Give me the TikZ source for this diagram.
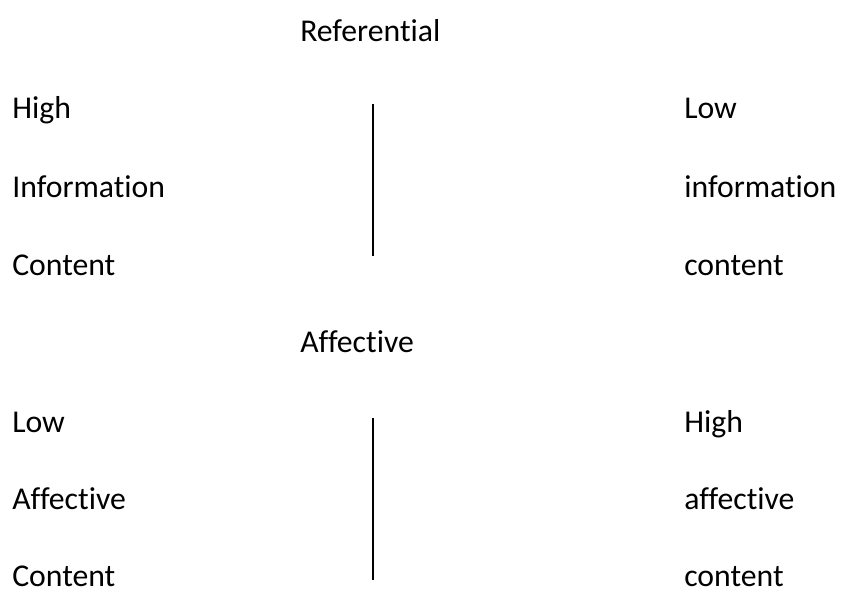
\documentclass[tikz,border=0pt]{standalone}
\usepackage{fontspec}
\setmainfont{Carlito}[Ligatures=NoCommon]
\usetikzlibrary{positioning}

\begin{document}
\begin{tikzpicture}[x=0.75pt,y=-0.75pt,
  lbl/.style={anchor=base west,inner sep=0pt,font=\fontsize{23.8}{28}\selectfont}]
\useasboundingbox (0,0) rectangle (841,590);
% top block
\node[lbl] (ref) at (300,41) {Referential};
\node[lbl] (hiA) at (12,118) {High};
\node[lbl] (infA) at (12,197) {Information};
\node[lbl] (conA) at (12,275) {Content};
\node[lbl] (loA) at (684,118) {Low};
\node[lbl] (infB) at (684,197) {information};
\node[lbl] (conB) at (684,275) {content};
\coordinate (T1) at (373,104);
\coordinate (T2) at (373,256);
\draw[line width=1pt] (T1)--(T2);
% bottom block
\node[lbl] (aff) at (300,352) {Affective};
\node[lbl] (loC) at (12,432) {Low};
\node[lbl] (affC) at (12,509) {Affective};
\node[lbl] (conC) at (12,586) {Content};
\node[lbl] (hiD) at (684,432) {High};
\node[lbl] (affD) at (684,509) {affective};
\node[lbl] (conD) at (684,586) {content};
\coordinate (B1) at (373,418);
\coordinate (B2) at (373,580);
\draw[line width=1pt] (B1)--(B2);
\end{tikzpicture}
\end{document}
